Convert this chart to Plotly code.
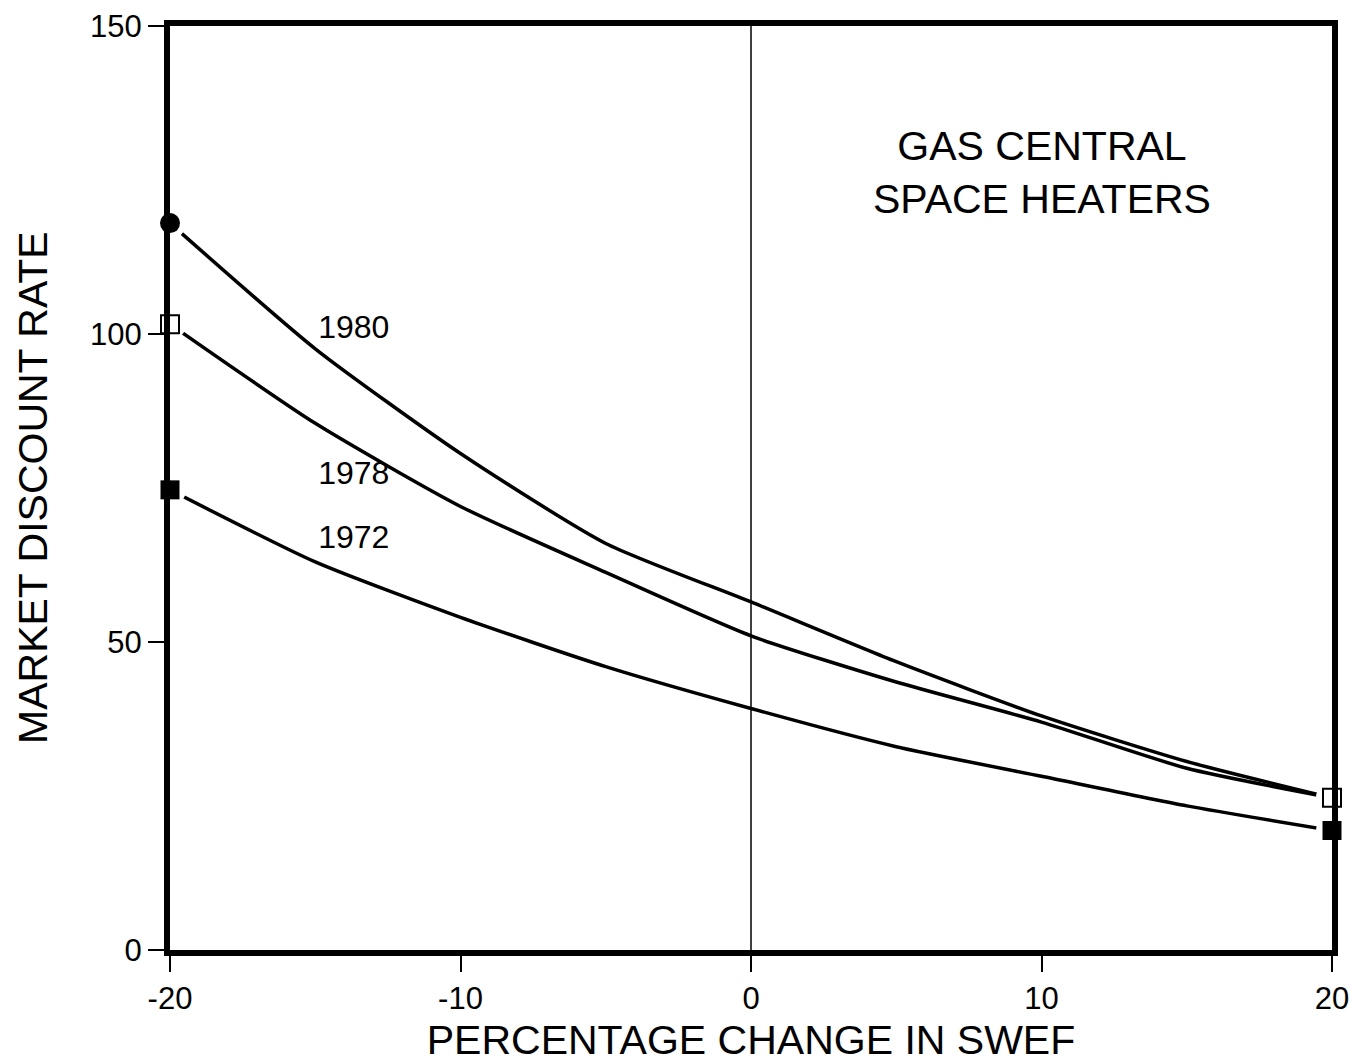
import plotly.graph_objects as go

x_vals = [-20, -15, -10, -5, 0, 5, 10, 15, 20]
y_1980 = [118, 97.6, 80.6, 66, 56.5, 46.8, 38, 30.6, 24.7]
y_1978 = [101.6, 85.5, 72, 61.3, 51, 43.5, 37, 29.5, 24.7]
y_1972 = [74.7, 63, 54, 46, 39.2, 33, 28.2, 23.4, 19.4]
labels = ["1980", "1978", "1972"]
label_x = [-14.9, -14.9, -14.9]
label_y = [100.6, 76.9, 66.6]
x_ticks = [-20, -10, 0, 10, 20]
x_ticktext = ["-20", "-10", "0", "10", "20"]
y_ticks = [0, 50, 100, 150]

FONT = "Liberation Sans, Arial, Helvetica"

fig = go.Figure()
for ys in (y_1980, y_1978, y_1972):
    fig.add_trace(go.Scatter(x=x_vals, y=ys, mode="lines", line=dict(color="black", width=3.5, shape="spline", smoothing=0.6), showlegend=False, hoverinfo="skip"))

# white halos behind markers
halo_x = [x_vals[0], x_vals[0], x_vals[0], x_vals[-1], x_vals[-1]]
halo_y = [y_1980[0], y_1978[0], y_1972[0], y_1978[-1], y_1972[-1]]
fig.add_trace(go.Scatter(x=halo_x, y=halo_y, mode="markers", marker=dict(color="white", size=32, symbol="circle"), showlegend=False, cliponaxis=False, hoverinfo="skip"))
fig.add_trace(go.Scatter(x=[x_vals[0]], y=[y_1980[0]], mode="markers", marker=dict(color="black", size=20, symbol="circle"), showlegend=False, cliponaxis=False))
fig.add_trace(go.Scatter(x=[x_vals[0], x_vals[-1]], y=[y_1978[0], y_1978[-1]], mode="markers", marker=dict(color="white", size=18, symbol="square", line=dict(color="black", width=2)), showlegend=False, cliponaxis=False))
fig.add_trace(go.Scatter(x=[x_vals[0], x_vals[-1]], y=[y_1972[0], y_1972[-1]], mode="markers", marker=dict(color="black", size=19, symbol="square"), showlegend=False, cliponaxis=False))

fig.add_trace(go.Scatter(x=label_x, y=label_y, mode="text", text=labels, textposition="middle right", textfont=dict(size=32, color="black", family=FONT), showlegend=False))

fig.add_shape(type="line", x0=0, x1=0, y0=0, y1=150, xref="x", yref="y", line=dict(color="black", width=1.5))

fig.add_annotation(x=10, y=126.2, xref="x", yref="y", text="GAS CENTRAL<br>SPACE HEATERS", showarrow=False, font=dict(size=41, color="black", family=FONT), align="center")

# y axis title as rotated annotation
fig.add_annotation(x=-0.118, y=0.501, xref="paper", yref="paper", text="MARKET DISCOUNT RATE", textangle=-90, showarrow=False,
                   xanchor="center", yanchor="middle", font=dict(size=41, color="black", family=FONT))

fig.update_xaxes(range=[-20, 20], tickvals=x_ticks, ticktext=x_ticktext, ticks="outside", ticklen=16, tickwidth=2, tickcolor="black",
                 showline=True, linewidth=6, linecolor="black", mirror=True, showgrid=False, zeroline=False, automargin=False,
                 ticklabeloverflow="allow",
                 tickfont=dict(size=31, color="black", family=FONT),
                 title=dict(text="PERCENTAGE CHANGE IN SWEF", font=dict(size=41, color="black", family=FONT)))
fig.update_yaxes(range=[0, 150], tickvals=y_ticks, ticks="outside", ticklen=16, tickwidth=2, tickcolor="black",
                 showline=True, linewidth=6, linecolor="black", mirror=True, showgrid=False, zeroline=False, automargin=False,
                 ticklabeloverflow="allow",
                 tickfont=dict(size=31, color="black", family=FONT))

fig.update_layout(width=1361, height=1055, margin=dict(l=162, r=37, t=18, b=113),
                  plot_bgcolor="white", paper_bgcolor="white")
fig.write_html("out.html")
